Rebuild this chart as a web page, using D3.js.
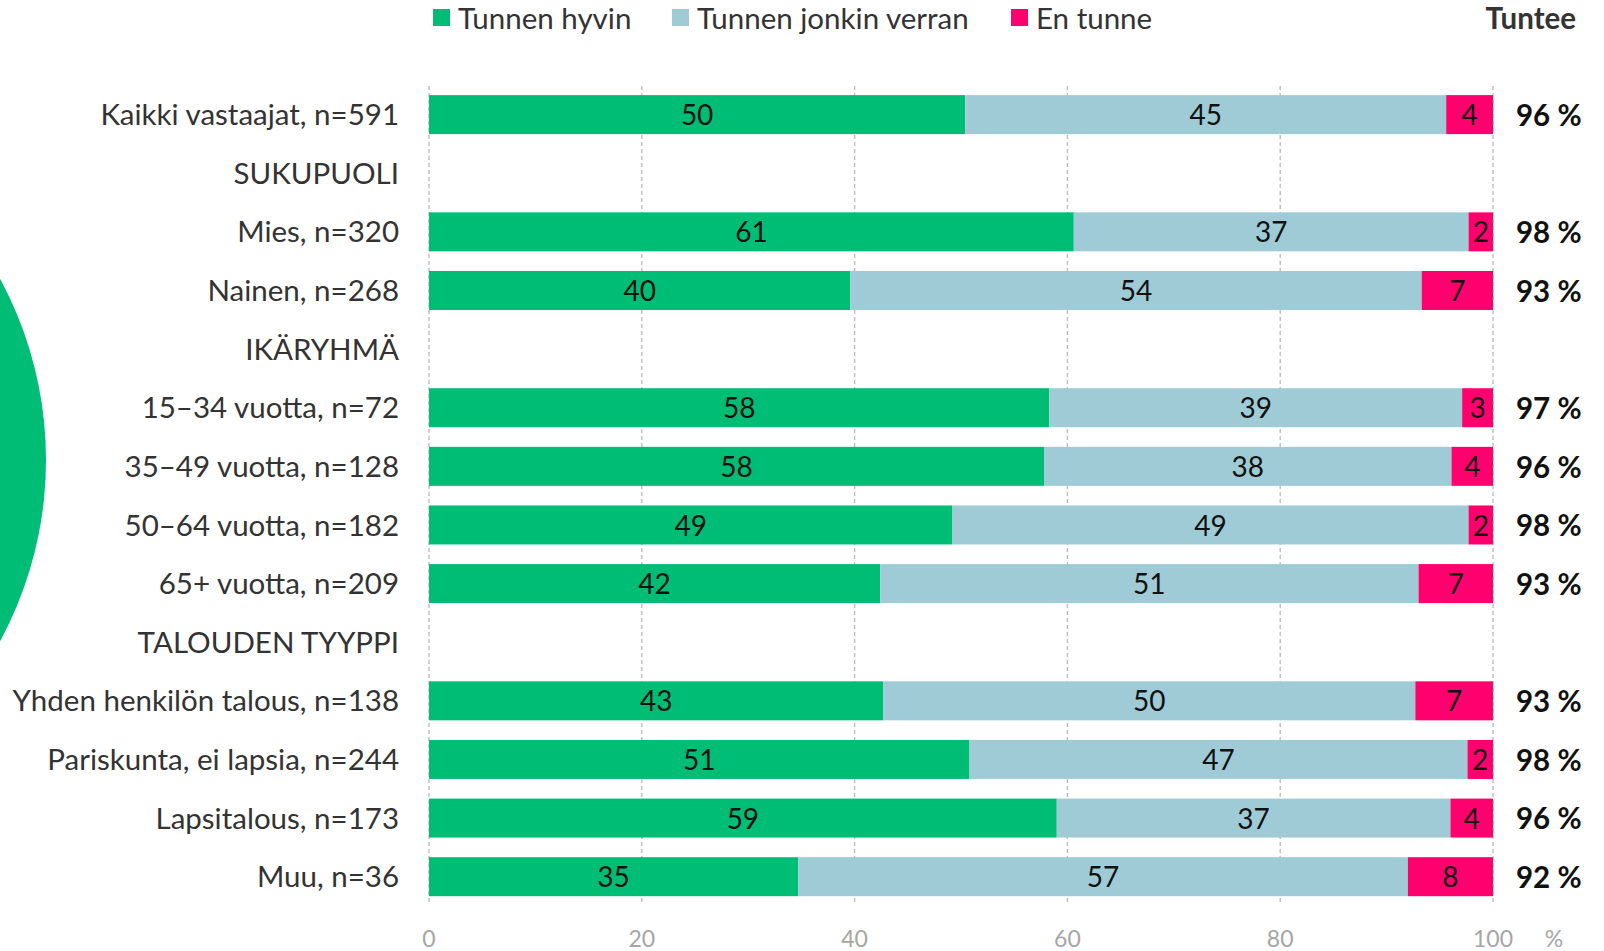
<!DOCTYPE html>
<html>
<head>
<meta charset="utf-8">
<script src="https://cdn.jsdelivr.net/npm/d3@7"></script>
<style>
	body { margin: 0; background: #fff; }
	svg text { font-family: Lato, "Noto Sans", sans-serif; }
</style>
</head>
<body>
<div id="graphicContainer"></div>
<script>

// rows, header rows have no values

var categories = [
	"Kaikki vastaajat, n=591",
	"SUKUPUOLI",
	"Mies, n=320",
	"Nainen, n=268",
	"IKÄRYHMÄ",
	"15–34 vuotta, n=72",
	"35–49 vuotta, n=128",
	"50–64 vuotta, n=182",
	"65+ vuotta, n=209",
	"TALOUDEN TYYPPI",
	"Yhden henkilön talous, n=138",
	"Pariskunta, ei lapsia, n=244",
	"Lapsitalous, n=173",
	"Muu, n=36"
]

var tunnenHyvin = [50.4, null, 60.6, 39.6, null, 58.3, 57.8, 49.2, 42.4, null, 42.7, 50.8, 59.0, 34.7]
var jonkinVerran = [45.2, null, 37.1, 53.7, null, 38.8, 38.3, 48.5, 50.6, null, 50.0, 46.8, 37.0, 57.3]
var enTunne = [4.4, null, 2.3, 6.7, null, 2.9, 3.9, 2.3, 7.0, null, 7.3, 2.4, 4.0, 8.0]
var tuntee = [96, null, 98, 93, null, 97, 96, 98, 93, null, 93, 98, 96, 92]

var seriesNames = ["Tunnen hyvin", "Tunnen jonkin verran", "En tunne"]
var seriesColors = ["#00bd76", "#9fcbd6", "#ff006e"]
var xTicks = [0, 20, 40, 60, 80, 100]

function init() {

	var width = 1604
	var height = 951

	var svg = d3.select("#graphicContainer").append("svg")
		.attr("width", width)
		.attr("height", height)

	// decorative circle on the left edge
	svg.append("circle")
		.attr("cx", -334)
		.attr("cy", 460)
		.attr("r", 380)
		.attr("fill", "#00bd76")

	var x = d3.scaleLinear()
		.domain([0, 100])
		.range([429, 1493])

	var y = d3.scaleBand()
		.domain(categories)
		.range([85.3, 906])
		.paddingInner(0.335)
		.paddingOuter(0.1675)

	// dashed gridlines
	svg.append("g")
		.selectAll("line")
		.data(xTicks)
		.enter()
		.append("line")
		.attr("x1", d => x(d))
		.attr("x2", d => x(d))
		.attr("y1", 86)
		.attr("y2", 902)
		.attr("stroke", "#bdbdbd")
		.attr("stroke-width", 1.4)
		.attr("stroke-dasharray", "4,3")

	var rows = categories.map(function(c, i) {
		return { name: c, values: [tunnenHyvin[i], jonkinVerran[i], enTunne[i]], total: tuntee[i] }
	})

	var barRows = rows.filter(d => d.values[0] != null)

	var segs = []
	barRows.forEach(function(r) {
		var start = 0
		r.values.forEach(function(v, j) {
			segs.push({ name: r.name, start: start, end: start + v, value: v, series: j })
			start += v
		})
	})

	svg.append("g")
		.selectAll("rect")
		.data(segs)
		.enter()
		.append("rect")
		.attr("x", d => x(d.start))
		.attr("width", d => x(d.end) - x(d.start))
		.attr("y", d => y(d.name))
		.attr("height", y.bandwidth())
		.attr("fill", d => seriesColors[d.series])

	svg.append("g")
		.selectAll("text")
		.data(segs)
		.enter()
		.append("text")
		.attr("x", d => (x(d.start) + x(d.end)) / 2)
		.attr("y", d => y(d.name) + y.bandwidth() / 2)
		.attr("dy", "0.38em")
		.attr("text-anchor", "middle")
		.attr("font-size", 28)
		.attr("fill", "#111")
		.text(d => Math.round(d.value))

	// category labels
	svg.append("g")
		.selectAll("text")
		.data(categories)
		.enter()
		.append("text")
		.attr("x", 399)
		.attr("y", d => y(d) + y.bandwidth() / 2)
		.attr("dy", "0.36em")
		.attr("text-anchor", "end")
		.attr("font-size", 29.5)
		.attr("fill", "#333")
		.text(d => d)

	// Tuntee totals
	svg.append("g")
		.selectAll("text")
		.data(barRows)
		.enter()
		.append("text")
		.attr("x", 1516)
		.attr("y", d => y(d.name) + y.bandwidth() / 2)
		.attr("dy", "0.38em")
		.attr("font-size", 29.5)
		.attr("font-weight", "bold")
		.attr("fill", "#111")
		.text(d => d.total + " %")

	svg.append("text")
		.attr("x", 1576)
		.attr("y", 18)
		.attr("dy", "0.36em")
		.attr("text-anchor", "end")
		.attr("font-size", 29.5)
		.attr("font-weight", "bold")
		.attr("fill", "#333")
		.text("Tuntee")

	// x axis labels
	svg.append("g")
		.selectAll("text")
		.data(xTicks)
		.enter()
		.append("text")
		.attr("x", d => x(d))
		.attr("y", 939)
		.attr("dy", "0.36em")
		.attr("text-anchor", "middle")
		.attr("font-size", 23)
		.attr("fill", "#a6a6a6")
		.text(d => d)

	svg.append("text")
		.attr("x", 1554)
		.attr("y", 939)
		.attr("dy", "0.36em")
		.attr("text-anchor", "middle")
		.attr("font-size", 23)
		.attr("fill", "#a6a6a6")
		.text("%")

	// legend
	var legendX = [433, 672, 1011]
	var legend = svg.append("g")
		.selectAll("g")
		.data(seriesNames)
		.enter()
		.append("g")
		.attr("transform", (d, i) => "translate(" + legendX[i] + ",18)")

	legend.append("rect")
		.attr("x", 0)
		.attr("y", -9)
		.attr("width", 17)
		.attr("height", 17)
		.attr("fill", (d, i) => seriesColors[i])

	legend.append("text")
		.attr("x", 25)
		.attr("y", 0)
		.attr("dy", "0.36em")
		.attr("font-size", 29.5)
		.attr("fill", "#333")
		.text(d => d)
}

init()

</script>
</body>
</html>
